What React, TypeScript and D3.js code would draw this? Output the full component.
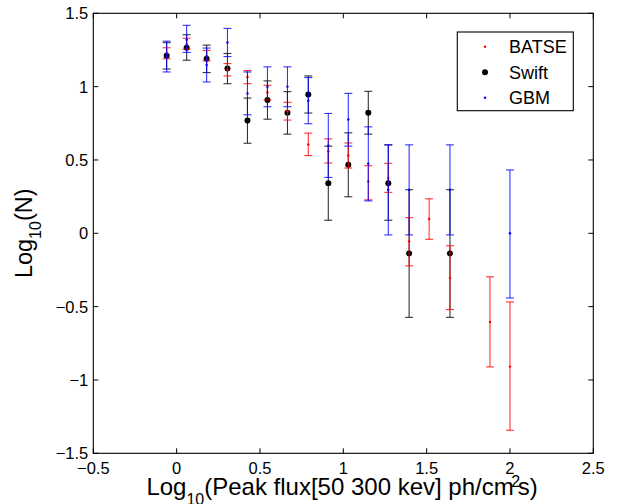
import React from 'react';
import * as d3 from 'd3';

const W = 617;
const H = 504;
const plot = { left: 93.3, right: 593.3, top: 13.3, bottom: 453.3 };

const xTicks = [-0.5, 0, 0.5, 1, 1.5, 2, 2.5];
const yTicks = [-1.5, -1, -0.5, 0, 0.5, 1, 1.5];

// BATSE
const batseX = [-0.06, 0.06, 0.18, 0.305, 0.425, 0.545, 0.665, 0.79, 0.91, 1.03, 1.15, 1.27, 1.395, 1.515, 1.64, 1.88, 2.0];
const batseY = [1.23, 1.29, 1.21, 1.114, 1.066, 0.96, 0.833, 0.605, 0.56, 0.53, 0.354, 0.377, -0.055, 0.098, -0.304, -0.605, -0.909];
const batseHi = [1.265, 1.33, 1.247, 1.157, 1.11, 1.009, 0.893, 0.683, 0.644, 0.616, 0.461, 0.477, 0.107, 0.235, -0.085, -0.297, -0.468];
const batseLo = [1.19, 1.256, 1.176, 1.073, 1.02, 0.91, 0.772, 0.53, 0.479, 0.445, 0.228, 0.279, -0.222, -0.041, -0.52, -0.911, -1.343];

// Swift
const swiftX = [-0.06, 0.06, 0.18, 0.305, 0.425, 0.545, 0.665, 0.79, 0.91, 1.03, 1.15, 1.27, 1.395, 1.64];
const swiftY = [1.21, 1.265, 1.19, 1.123, 0.769, 0.909, 0.822, 0.947, 0.342, 0.468, 0.822, 0.342, -0.137, -0.137];
const swiftHi = [1.3, 1.354, 1.283, 1.226, 0.922, 1.039, 0.966, 1.073, 0.594, 0.685, 0.968, 0.603, 0.297, 0.297];
const swiftLo = [1.12, 1.18, 1.096, 1.02, 0.614, 0.778, 0.676, 0.82, 0.089, 0.249, 0.676, 0.089, -0.573, -0.573];

// GBM
const gbmX = [-0.06, 0.06, 0.18, 0.305, 0.425, 0.545, 0.665, 0.79, 0.91, 1.03, 1.15, 1.27, 1.395, 1.64, 2.0];
const gbmY = [1.21, 1.32, 1.148, 1.301, 0.954, 1.0, 1.0, 0.904, 0.598, 0.776, 0.475, 0.297, 0.297, 0.297, 0.0];
const gbmHi = [1.31, 1.418, 1.263, 1.397, 1.1, 1.135, 1.135, 1.062, 0.817, 0.954, 0.726, 0.603, 0.603, 0.603, 0.432];
const gbmLo = [1.1, 1.233, 1.032, 1.205, 0.808, 0.863, 0.863, 0.747, 0.381, 0.594, 0.221, -0.011, -0.011, -0.011, -0.441];

const FONT = '"Liberation Sans", Arial, Helvetica, sans-serif';

const x = d3.scaleLinear().domain([-0.5, 2.5]).range([plot.left, plot.right]);
const y = d3.scaleLinear().domain([-1.5, 1.5]).range([plot.bottom, plot.top]);

const fmt = (v: number) => (v < 0 ? '\u2212' + String(-v) : String(v));

type Series = { name: string; color: string; xs: number[]; ys: number[]; hi: number[]; lo: number[]; r: number };

const series: Series[] = [
  { name: 'Swift', color: '#000000', xs: swiftX, ys: swiftY, hi: swiftHi, lo: swiftLo, r: 3 },
  { name: 'BATSE', color: '#ff0000', xs: batseX, ys: batseY, hi: batseHi, lo: batseLo, r: 1.2 },
  { name: 'GBM', color: '#0000ff', xs: gbmX, ys: gbmY, hi: gbmHi, lo: gbmLo, r: 1.2 },
];

const legendItems = [
  { name: 'BATSE', color: '#ff0000', r: 1.2 },
  { name: 'Swift', color: '#000000', r: 3 },
  { name: 'GBM', color: '#0000ff', r: 1.2 },
];

const CAP = 4;
const TICK = 5;

export default function App() {
  return (
    <div style={{ position: 'fixed', left: 0, top: 0 }}>
      <svg width={W} height={H} style={{ display: 'block', background: '#fff' }} fontFamily={FONT}>
        <rect x={0} y={0} width={W} height={H} fill="#fff" />

        {/* error bars and markers */}
        {series.map((s) => (
          <g key={s.name} stroke={s.color} strokeOpacity={0.8} strokeWidth={1.1}>
            {s.xs.map((xv, i) => {
              const cx = x(xv);
              const yh = y(s.hi[i]);
              const yl = y(s.lo[i]);
              return (
                <g key={i}>
                  <line x1={cx} x2={cx} y1={yh} y2={yl} />
                  <line x1={cx - CAP} x2={cx + CAP} y1={yh} y2={yh} />
                  <line x1={cx - CAP} x2={cx + CAP} y1={yl} y2={yl} />
                  <circle cx={cx} cy={y(s.ys[i])} r={s.r} fill={s.color} stroke="none" />
                </g>
              );
            })}
          </g>
        ))}

        {/* axes box */}
        <rect
          x={plot.left}
          y={plot.top}
          width={plot.right - plot.left}
          height={plot.bottom - plot.top}
          fill="none"
          stroke="#000"
          strokeWidth={1.1}
        />
        {xTicks.map((t) => (
          <g key={'x' + t}>
            <line x1={x(t)} x2={x(t)} y1={plot.bottom} y2={plot.bottom - TICK} stroke="#000" />
            <line x1={x(t)} x2={x(t)} y1={plot.top} y2={plot.top + TICK} stroke="#000" />
            <text x={x(t)} y={474} textAnchor="middle" fontSize={16.5}>
              {fmt(t)}
            </text>
          </g>
        ))}
        {yTicks.map((t) => (
          <g key={'y' + t}>
            <line x1={plot.left} x2={plot.left + TICK} y1={y(t)} y2={y(t)} stroke="#000" />
            <line x1={plot.right} x2={plot.right - TICK} y1={y(t)} y2={y(t)} stroke="#000" />
            <text x={plot.left - 5} y={y(t)} dy="0.36em" textAnchor="end" fontSize={16.5}>
              {fmt(t)}
            </text>
          </g>
        ))}

        {/* legend */}
        <rect x={457.3} y={32} width={116} height={78.7} fill="#fff" stroke="#000" strokeWidth={1.1} />
        {legendItems.map((d, i) => (
          <g key={d.name} transform={`translate(0, ${46.7 + i * 25.5})`}>
            <circle cx={485} cy={0} r={d.r} fill={d.color} />
            <text x={509} y={0} dy="0.36em" fontSize={18}>
              {d.name}
            </text>
          </g>
        ))}

        {/* axis labels */}
        <text x={342} y={495} textAnchor="middle" fontSize={24}>
          Log
          <tspan fontSize={16} dy={10}>10</tspan>
          <tspan dy={-10}>(Peak flux[50 300 kev] ph/cm</tspan>
          <tspan fontSize={16} dy={-8.5} dx={-2.5}>2</tspan>
          <tspan dy={8.5} dx={-2.5}>s)</tspan>
        </text>
        <text transform={`translate(31.5, 233.3) rotate(-90)`} textAnchor="middle" fontSize={23.5}>
          Log
          <tspan fontSize={16} dy={9}>10</tspan>
          <tspan dy={-9}>(N)</tspan>
        </text>
      </svg>
    </div>
  );
}
